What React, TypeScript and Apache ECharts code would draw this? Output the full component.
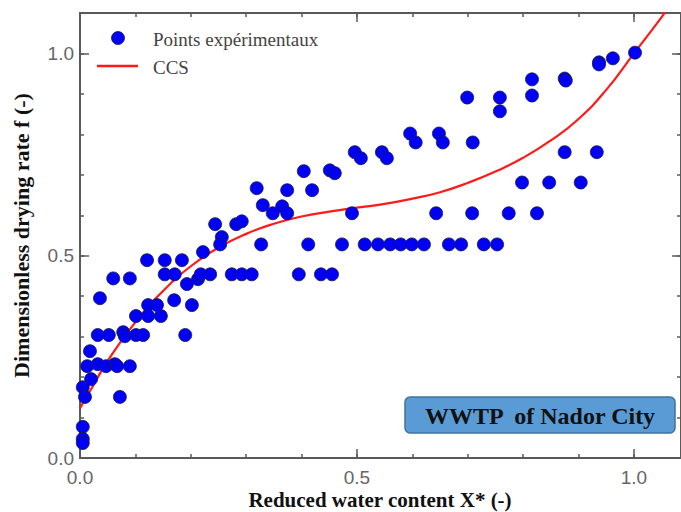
import React, { useEffect, useRef } from "react";
import * as echarts from "echarts";

// Experimental points (X*, f)
const pointsX = [
  0.005, 0.005, 0.005, 0.005, 0.009, 0.020, 0.072, 0.013, 0.032, 0.047,
  0.063, 0.067, 0.090, 0.018, 0.032, 0.052, 0.078, 0.081, 0.101, 0.114,
  0.190, 0.036, 0.101, 0.123, 0.146, 0.123, 0.139, 0.170, 0.202, 0.060,
  0.090, 0.193, 0.121, 0.153, 0.184, 0.153, 0.171, 0.213, 0.218, 0.235,
  0.222, 0.274, 0.292, 0.310, 0.395, 0.435, 0.455, 0.244, 0.256, 0.253,
  0.282, 0.292, 0.319, 0.330, 0.348, 0.365, 0.374, 0.374, 0.327, 0.404,
  0.419, 0.412, 0.451, 0.460, 0.473, 0.491, 0.496, 0.507, 0.514, 0.538,
  0.545, 0.554, 0.560, 0.579, 0.599, 0.621, 0.596, 0.606, 0.648, 0.655,
  0.643, 0.666, 0.688, 0.699, 0.709, 0.708, 0.729, 0.753, 0.758, 0.758,
  0.774, 0.798, 0.816, 0.816, 0.825, 0.847, 0.875, 0.877, 0.875, 0.904,
  0.933, 0.937, 0.937, 0.962, 1.002,
];
const pointsY = [
  0.077, 0.047, 0.037, 0.175, 0.151, 0.195, 0.151, 0.227, 0.232, 0.227,
  0.232, 0.227, 0.227, 0.264, 0.304, 0.304, 0.311, 0.301, 0.304, 0.304,
  0.304, 0.395, 0.351, 0.351, 0.351, 0.378, 0.378, 0.390, 0.378, 0.444,
  0.444, 0.430, 0.489, 0.489, 0.489, 0.454, 0.454, 0.442, 0.454, 0.454,
  0.509, 0.454, 0.454, 0.454, 0.454, 0.454, 0.454, 0.578, 0.546, 0.528,
  0.578, 0.585, 0.667, 0.625, 0.605, 0.622, 0.605, 0.662, 0.528, 0.709,
  0.662, 0.528, 0.711, 0.704, 0.528, 0.605, 0.756, 0.741, 0.528, 0.528,
  0.756, 0.741, 0.528, 0.528, 0.528, 0.528, 0.802, 0.780, 0.802, 0.780,
  0.605, 0.528, 0.528, 0.891, 0.780, 0.605, 0.528, 0.528, 0.891, 0.857,
  0.605, 0.681, 0.936, 0.896, 0.605, 0.681, 0.938, 0.933, 0.756, 0.681,
  0.756, 0.978, 0.973, 0.988, 1.002,
];

// CCS curve
const curveX = [0, 0.02, 0.05, 0.1, 0.15, 0.2, 0.25, 0.3, 0.35, 0.4, 0.45, 0.5, 0.55, 0.6, 0.65, 0.7, 0.75, 0.8, 0.85, 0.9, 0.95, 1.0, 1.05, 1.07];
const curveY = [0.123, 0.17, 0.24, 0.336, 0.413, 0.474, 0.52, 0.554, 0.579, 0.597, 0.609, 0.619, 0.628, 0.641, 0.657, 0.68, 0.708, 0.742, 0.785, 0.838, 0.91, 1.0, 1.09, 1.13];

const majorTicks = ["0.0", "0.5", "1.0"];
const seriesNames = ["Points expérimentaux", "CCS"];
const xName = "Reduced water content X* (-)";
const yName = "Dimensionless drying rate f (-)";
const boxLabel = "WWTP  of Nador City";

const SERIF = "'Liberation Serif', 'Times New Roman', serif";
const SANS = "'Liberation Sans', Arial, sans-serif";
const AXIS_COLOR = "#5a5a5a";
const POINT_COLOR = "#0000f5";
const CURVE_COLOR = "#ff1a1a";

export default function App() {
  const ref = useRef<HTMLDivElement>(null);

  useEffect(() => {
    if (!ref.current) return;
    const chart = echarts.init(ref.current, undefined, { renderer: "svg" });

    const fmt = (v: number) => {
      const s = v.toFixed(1);
      return majorTicks.includes(s) && Math.abs(v * 2 - Math.round(v * 2)) < 1e-6 ? s : "";
    };

    const xMax = 1.085;
    const yMax = 1.1;

    const baseAxis = (pos: string, max: number, interval: number, len: number, labels: boolean, line: boolean, margin: number) => ({
      type: "value",
      position: pos,
      min: 0,
      max,
      interval,
      axisLine: { show: line, onZero: false, lineStyle: { color: AXIS_COLOR, width: 2 } },
      axisTick: { show: true, inside: true, length: len, lineStyle: { color: AXIS_COLOR, width: 1.5 } },
      axisLabel: labels
        ? { show: true, formatter: fmt, color: "#666", fontFamily: SANS, fontSize: 19, margin }
        : { show: false },
      splitLine: { show: false },
    });

    const xAxes: any[] = [
      baseAxis("bottom", xMax, 0.5, 9, true, true, 10),
      baseAxis("bottom", xMax, 0.1, 4, false, false, 0),
      baseAxis("top", xMax, 0.5, 9, false, true, 0),
      baseAxis("top", xMax, 0.1, 4, false, false, 0),
    ];
    const yAxes: any[] = [
      {
        ...baseAxis("left", yMax, 0.5, 9, true, true, 6),
        name: yName,
        nameLocation: "middle",
        nameGap: 48,
        nameTextStyle: { fontFamily: SERIF, fontWeight: "bold", fontSize: 22, color: "#111" },
      },
      baseAxis("left", yMax, 0.1, 4, false, false, 0),
      baseAxis("right", yMax, 0.5, 9, false, true, 0),
      baseAxis("right", yMax, 0.1, 4, false, false, 0),
    ];

    chart.setOption({
      animation: false,
      backgroundColor: "#ffffff",
      grid: { left: 80, right: 0, top: 13, bottom: 54, outerBoundsMode: "none", containLabel: false },
      xAxis: xAxes,
      yAxis: yAxes,
      series: [
        {
          name: seriesNames[1],
          type: "line",
          xAxisIndex: 0,
          yAxisIndex: 0,
          data: curveX.map((x, i) => [x, curveY[i]]),
          smooth: true,
          symbol: "none",
          clip: true,
          lineStyle: { color: CURVE_COLOR, width: 2.2 },
          itemStyle: { color: CURVE_COLOR },
          z: 2,
        },
        {
          name: seriesNames[0],
          type: "scatter",
          xAxisIndex: 0,
          yAxisIndex: 0,
          data: pointsX.map((x, i) => [x, pointsY[i]]),
          symbol: "circle",
          symbolSize: 13,
          itemStyle: { color: POINT_COLOR, borderColor: "#1a1a50", borderWidth: 0.8, opacity: 1 },
          z: 3,
        },
      ],
      graphic: [
        // x-axis title
        {
          type: "text",
          x: 380,
          y: 500,
          style: {
            text: xName,
            fill: "#111",
            font: `bold 21px ${SERIF}`,
            textAlign: "center",
            textVerticalAlign: "middle",
          },
          z: 10,
        },
        // legend
        {
          type: "circle",
          shape: { cx: 118, cy: 38, r: 6.5 },
          style: { fill: POINT_COLOR, stroke: "#1a1a50", lineWidth: 0.8 },
          z: 10,
        },
        {
          type: "text",
          x: 153,
          y: 39,
          style: { text: seriesNames[0], fill: "#444", font: `19px ${SERIF}`, textAlign: "left", textVerticalAlign: "middle" },
          z: 10,
        },
        {
          type: "line",
          shape: { x1: 97, y1: 66, x2: 138, y2: 66 },
          style: { stroke: CURVE_COLOR, lineWidth: 2.5 },
          z: 10,
        },
        {
          type: "text",
          x: 153,
          y: 67,
          style: { text: seriesNames[1], fill: "#444", font: `19px ${SERIF}`, textAlign: "left", textVerticalAlign: "middle" },
          z: 10,
        },
        // label box
        {
          type: "rect",
          shape: { x: 405, y: 397, width: 270, height: 36, r: 5 },
          style: { fill: "#5b9bd5", stroke: "#41719c", lineWidth: 1.5 },
          z: 10,
        },
        {
          type: "text",
          x: 540,
          y: 416,
          style: {
            text: boxLabel,
            fill: "#111",
            font: `bold 24px ${SERIF}`,
            textAlign: "center",
            textVerticalAlign: "middle",
          },
          z: 11,
        },
      ],
    });

    return () => chart.dispose();
  }, []);

  return (
    <div
      ref={ref}
      style={{ position: "fixed", left: 0, top: 0, width: 681, height: 512, background: "#fff" }}
    />
  );
}
